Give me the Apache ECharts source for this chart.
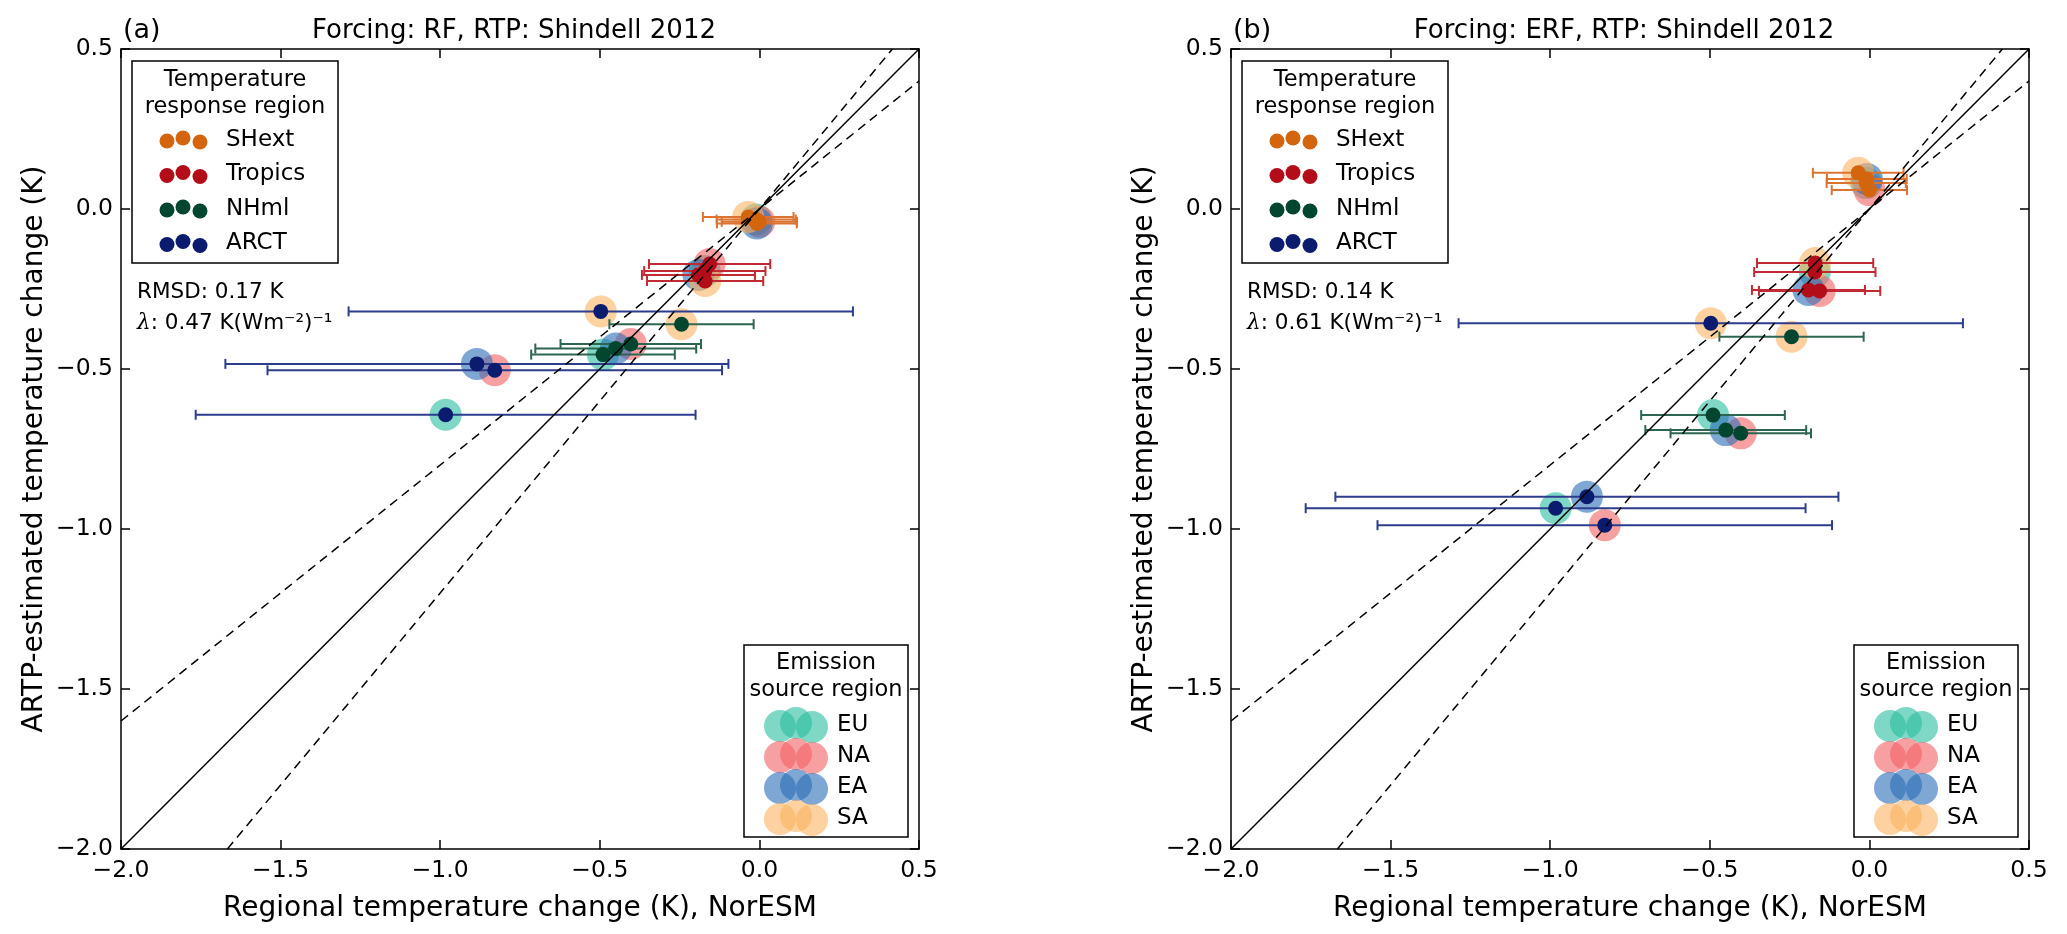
<!DOCTYPE html>
<html><head><meta charset="utf-8">
<script src="https://cdn.jsdelivr.net/npm/echarts@6/dist/echarts.min.js"></script>
<style>html,body{margin:0;padding:0;background:#fff}#c{width:2067px;height:934px}</style>
</head><body><div id="c"></div>
<script>
// ---------- data ----------
const responseRegions = ['SHext', 'Tropics', 'NHml', 'ARCT'];
const emissionRegions = ['EU', 'NA', 'EA', 'SA'];
const panelLabels = ['(a)', '(b)'];
const panelTitles = ['Forcing: RF, RTP: Shindell 2012', 'Forcing: ERF, RTP: Shindell 2012'];
const rmsdValues = ['0.17', '0.14'];
const lambdaValues = ['0.47', '0.61'];
const tickValues = [-2.0, -1.5, -1.0, -0.5, 0.0, 0.5];
const refSlopes = [1.0, 0.8, 1.2];   // y = s * x

// NorESM regional temperature change (x), order of emissionRegions: EU, NA, EA, SA
const noresmSHext   = [-0.010,  0.000, -0.008, -0.035];
const noresmTropics = [-0.171, -0.156, -0.191, -0.170];
const noresmNHml    = [-0.490, -0.403, -0.450, -0.244];
const noresmARCT    = [-0.983, -0.829, -0.885, -0.497];
// NorESM spread (horizontal error bar half width)
const spreadSHext   = [0.124, 0.118, 0.125, 0.142];
const spreadTropics = [0.190, 0.190, 0.177, 0.182];
const spreadNHml    = [0.225, 0.220, 0.252, 0.226];
const spreadARCT    = [0.783, 0.712, 0.788, 0.790];
// ARTP estimate, forcing RF (panel a)
const rfSHext   = [-0.033, -0.040, -0.045, -0.025];
const rfTropics = [-0.194, -0.172, -0.206, -0.225];
const rfNHml    = [-0.455, -0.422, -0.436, -0.360];
const rfARCT    = [-0.643, -0.504, -0.484, -0.320];
// ARTP estimate, forcing ERF (panel b)
const erfSHext   = [0.081, 0.059, 0.094, 0.113];
const erfTropics = [-0.197, -0.256, -0.253, -0.169];
const erfNHml    = [-0.644, -0.701, -0.691, -0.399];
const erfARCT    = [-0.935, -0.988, -0.899, -0.357];

// ---------- styling ----------
const FONT = 'DejaVu Sans';
const respColors = ['#d4650f', '#b30d1a', '#03462f', '#0b1b6e'];
const barColors  = ['#dc7330', '#c22a33', '#2d6650', '#2c3d8e'];
const emisColors = ['#2abea0', '#f26164', '#2a6cb5', '#fcb261'];
const EMIS_OPACITY = 0.6;
const grids = [
  {left: 121, top: 49, width: 798, height: 800},
  {left: 1231, top: 49, width: 798, height: 800}
];

const xs = [noresmSHext, noresmTropics, noresmNHml, noresmARCT];
const errs = [spreadSHext, spreadTropics, spreadNHml, spreadARCT];
const ysByPanel = [
  [rfSHext, rfTropics, rfNHml, rfARCT],
  [erfSHext, erfTropics, erfNHml, erfARCT]
];

const fmt = v => (v < 0 ? '\u2212' : '') + Math.abs(v).toFixed(1);
const AMIN = tickValues[0], AMAX = tickValues[tickValues.length - 1];

function baseAxis(gridIndex, position, showLabel, margin) {
  return {
    type: 'value', gridIndex, position, min: AMIN, max: AMAX, interval: 0.5,
    axisLine: {show: true, onZero: false, lineStyle: {color: '#000', width: 1.5}},
    axisTick: {show: true, inside: true, length: 9, lineStyle: {color: '#000', width: 1.5}},
    splitLine: {show: false},
    axisLabel: {show: showLabel, formatter: fmt, fontFamily: FONT, fontSize: 23.5, color: '#000',
                margin: margin, showMinLabel: true, showMaxLabel: true},
  };
}

const xAxis = [], yAxis = [], series = [], graphic = [];
grids.forEach((g, i) => {
  const xb = baseAxis(i, 'bottom', true, 10);
  xb.name = 'Regional temperature change (K), NorESM';
  xb.nameLocation = 'middle';
  xb.nameGap = 46;
  xb.nameTextStyle = {fontFamily: FONT, fontSize: 28, color: '#000'};
  xAxis.push(xb, baseAxis(i, 'top', false, 8));
  const yl = baseAxis(i, 'left', true, 8);
  yl.name = 'ARTP-estimated temperature change (K)';
  yl.nameLocation = 'middle';
  yl.nameGap = 72;
  yl.nameRotate = 90;
  yl.nameTextStyle = {fontFamily: FONT, fontSize: 28, color: '#000'};
  yAxis.push(yl, baseAxis(i, 'right', false, 8));

  const xi = 2 * i, yi = 2 * i;
  const ys = ysByPanel[i];

  // big translucent circles: emission source region
  emissionRegions.forEach((em, e) => {
    series.push({
      type: 'scatter', xAxisIndex: xi, yAxisIndex: yi, z: 2, silent: true,
      symbol: 'circle', symbolSize: 32,
      itemStyle: {color: emisColors[e], opacity: EMIS_OPACITY},
      data: responseRegions.map((r, k) => [xs[k][e], ys[k][e]])
    });
  });

  // horizontal error bars: response region
  responseRegions.forEach((r, k) => {
    series.push({
      type: 'custom', xAxisIndex: xi, yAxisIndex: yi, z: 3, silent: true,
      encode: {x: 0, y: 1},
      data: emissionRegions.map((em, e) => [xs[k][e], ys[k][e], errs[k][e]]),
      renderItem: (params, api) => {
        const x = api.value(0), y = api.value(1), d = api.value(2);
        const a = api.coord([x - d, y]), b = api.coord([x + d, y]);
        const st = {stroke: barColors[k], lineWidth: 2};
        return {type: 'group', children: [
          {type: 'line', shape: {x1: a[0], y1: a[1], x2: b[0], y2: b[1]}, style: st},
          {type: 'line', shape: {x1: a[0], y1: a[1] - 5, x2: a[0], y2: a[1] + 5}, style: st},
          {type: 'line', shape: {x1: b[0], y1: b[1] - 5, x2: b[0], y2: b[1] + 5}, style: st}
        ]};
      }
    });
  });

  // small dots: response region
  responseRegions.forEach((r, k) => {
    series.push({
      type: 'scatter', xAxisIndex: xi, yAxisIndex: yi, z: 4, silent: true,
      symbol: 'circle', symbolSize: 15,
      itemStyle: {color: respColors[k], opacity: 1},
      data: emissionRegions.map((em, e) => [xs[k][e], ys[k][e]])
    });
  });

  // reference lines through origin
  refSlopes.forEach((s, j) => {
    const xlo = Math.max(AMIN, AMIN / s), xhi = Math.min(AMAX, AMAX / s);
    series.push({
      type: 'line', xAxisIndex: xi, yAxisIndex: yi, z: 5, silent: true,
      symbol: 'none', animation: false,
      lineStyle: {color: '#000', width: 1.5, type: j === 0 ? 'solid' : [9, 6]},
      data: [[xlo, s * xlo], [xhi, s * xhi]]
    });
  });

  // ---- annotations / legends (graphic) ----
  const L = g.left, R = g.left + g.width;
  const txt = (x, y, text, size, align, extra) => Object.assign({
    type: 'text', x, y, z: 100, silent: true,
    style: {text, fontFamily: FONT, fontSize: size, fill: '#000',
            align: align, verticalAlign: 'middle', textAlign: align, textVerticalAlign: 'middle'}
  }, extra || {});
  graphic.push(txt(L + g.width / 2 - 6, 31, panelTitles[i], 26, 'center'));
  graphic.push(txt(L + 2, 31, panelLabels[i], 27, 'left'));

  // upper-left legend: temperature response region
  graphic.push({type: 'rect', z: 90, silent: true, shape: {x: L + 11, y: 61, width: 206, height: 202},
                style: {fill: '#fff', stroke: '#000', lineWidth: 1.5}});
  graphic.push(txt(L + 114, 80, 'Temperature', 22.5, 'center'));
  graphic.push(txt(L + 114, 107, 'response region', 22.5, 'center'));
  const dotDx = [46, 62, 79], dotDy = [1, -2, 2];
  responseRegions.forEach((r, k) => {
    const yy = 140 + k * 34.5;
    dotDx.forEach((dx, m) => graphic.push({type: 'circle', z: 95, silent: true,
      shape: {cx: L + dx, cy: yy + dotDy[m], r: 7.5}, style: {fill: respColors[k]}}));
    graphic.push(txt(L + 105, yy, r, 23, 'left'));
  });

  // lower-right legend: emission source region
  graphic.push({type: 'rect', z: 90, silent: true, shape: {x: R - 175, y: 645, width: 164, height: 192},
                style: {fill: '#fff', stroke: '#000', lineWidth: 1.5}});
  graphic.push(txt(R - 93, 663, 'Emission', 22.5, 'center'));
  graphic.push(txt(R - 93, 690, 'source region', 22.5, 'center'));
  const cDx = [139, 123, 107];
  emissionRegions.forEach((em, e) => {
    const yy = 725 + e * 31;
    cDx.forEach((dx, m) => graphic.push({type: 'circle', z: 95, silent: true,
      shape: {cx: R - dx, cy: yy + dotDy[m], r: 16}, style: {fill: emisColors[e], opacity: EMIS_OPACITY}}));
    graphic.push(txt(R - 82, yy, em, 23, 'left'));
  });

  // RMSD and lambda text
  graphic.push(txt(L + 16, 292, 'RMSD: ' + rmsdValues[i] + ' K', 21.5, 'left'));
  graphic.push({type: 'text', x: L + 16, y: 323, z: 100, silent: true,
    style: {text: '{i|\u03bb}: ' + lambdaValues[i] + ' K(Wm\u207b\u00b2)\u207b\u00b9',
            fontFamily: FONT, fontSize: 21.5, fill: '#000',
            align: 'left', verticalAlign: 'middle', textAlign: 'left', textVerticalAlign: 'middle',
            rich: {i: {fontFamily: 'DejaVu Serif', fontStyle: 'italic', fontSize: 21.5, fill: '#000'}}}});
});

const chart = echarts.init(document.getElementById('c'), null, {width: 2067, height: 934});
chart.setOption({
  animation: false,
  backgroundColor: '#fff',
  grid: grids.map(g => Object.assign({containLabel: false}, g)),
  xAxis, yAxis, series, graphic
});
</script>
</body></html>
